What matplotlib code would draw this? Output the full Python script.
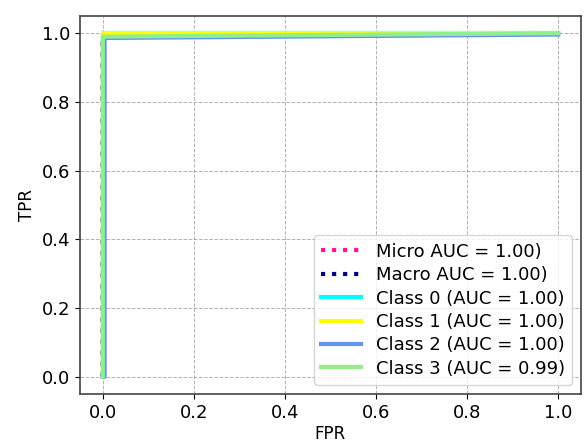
import matplotlib
matplotlib.use("Agg")
import matplotlib.pyplot as plt

# ROC curves per class
micro_fpr = [0.0, 0.0, 0.003, 1.0]
micro_tpr = [0.0, 0.99, 1.0, 1.0]
macro_fpr = [0.0, 0.0, 0.003, 1.0]
macro_tpr = [0.0, 0.99, 1.0, 1.0]

class_fpr = [
    [0.0, 0.0, 1.0],
    [0.0, 0.0, 1.0],
    [0.0, 0.004, 0.004, 1.0],
    [0.0, 0.0, 0.01, 1.0],
]
class_tpr = [
    [0.0, 1.0, 1.0],
    [0.0, 1.0, 1.0],
    [0.0, 0.0, 0.986, 0.996],
    [0.0, 0.99, 0.99, 1.0],
]
class_auc = [1.00, 1.00, 1.00, 0.99]
class_colors = ["aqua", "yellow", "cornflowerblue", "lightgreen"]
micro_auc = 1.00
macro_auc = 1.00

fig = plt.figure(figsize=(5.87, 4.44), dpi=100)
ax = fig.add_axes([80/587, 1 - 394/444, 501/587, 378/444])

ax.plot(micro_fpr, micro_tpr, color="deeppink", linestyle=":", lw=3,
        label="Micro AUC = {:.2f})".format(micro_auc))
ax.plot(macro_fpr, macro_tpr, color="navy", linestyle=":", lw=3,
        label="Macro AUC = {:.2f})".format(macro_auc))
for i in range(len(class_fpr)):
    ax.plot(class_fpr[i], class_tpr[i], color=class_colors[i], lw=3,
            label="Class {} (AUC = {:.2f})".format(i, class_auc[i]))

ax.set_xlim(-0.05, 1.05)
ax.set_ylim(-0.05, 1.05)
ax.set_xlabel("FPR", fontsize=12, labelpad=2)
ax.set_ylabel("TPR", fontsize=12)
ax.tick_params(labelsize=13)
ax.grid(True, linestyle="--", color="gray", alpha=0.6, lw=0.7)
for s in ax.spines.values():
    s.set_color("#444444")
    s.set_linewidth(1.2)

ax.legend(loc="lower right", fontsize=13, handlelength=2.2, labelspacing=0.3)

fig.savefig("out.png", dpi=100)
